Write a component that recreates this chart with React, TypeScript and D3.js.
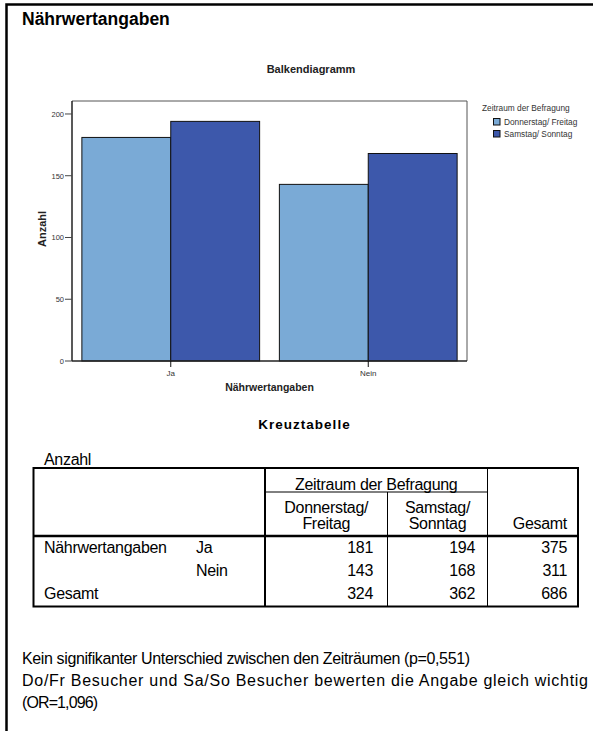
import React, { useEffect } from "react";
import * as d3 from "d3";

const categories = ["Ja", "Nein"];
const seriesNames = ["Donnerstag/ Freitag", "Samstag/ Sonntag"];
const seriesDoFr = [181, 143];
const seriesSaSo = [194, 168];
const yTicks = [0, 50, 100, 150, 200];
const colors = ["#7aaad6", "#3d58ab"];

const tableRows = ["Ja", "Nein"];
const totalsRow = [324, 362, 686];
const rowTotals = [375, 311];

const notes = [
  "Kein signifikanter Unterschied zwischen den Zeiträumen (p=0,551)",
  "Do/Fr Besucher und Sa/So Besucher bewerten die Angabe gleich wichtig",
  "(OR=1,096)",
];
const noteWidths = [448, 566, 76];

const FONT = "'Liberation Sans', Arial, sans-serif";

export default function App() {
  useEffect(() => {
    document.body.style.margin = "0";
    document.body.style.overflow = "hidden";
  }, []);
  const W = 593;
  const H = 731;
  const plot = { left: 72, right: 467, top: 101, bottom: 361 };
  const x0 = d3
    .scaleBand<string>()
    .domain(categories)
    .range([plot.left, plot.right])
    .paddingInner(0.1)
    .paddingOuter(0.05);
  const x1 = d3
    .scaleBand<number>()
    .domain([0, 1])
    .range([0, x0.bandwidth()]);
  const y = d3.scaleLinear().domain([0, 210.5]).range([plot.bottom, plot.top]);
  const series = [seriesDoFr, seriesSaSo];

  // table geometry
  const tL = 33.5, tR = 578, tT = 468, tB = 606.5;
  const c1 = 265, c2 = 387.5, c3 = 487.5;
  const hSep = 536, zLine = 492;
  const rowBase = [553, 576, 599];
  const numRight = [373, 475, 567];
  const tf = 16;

  return (
    <svg
      width={W}
      height={H}
      style={{ position: "fixed", left: 0, top: 0, background: "#fff", display: "block" }}
      fontFamily={FONT}
    >
      {/* outer frame */}
      <path d={`M6.5,${H} V4.5 H${W}`} fill="none" stroke="#000" strokeWidth={2.5} />
      <text x={22} y={25} fontSize={17.5} fontWeight="bold">
        Nährwertangaben
      </text>

      {/* chart */}
      <text x={311} y={73} fontSize={11} fontWeight="bold" textAnchor="middle" fill="#222">
        Balkendiagramm
      </text>
      <line x1={plot.left} x2={plot.right} y1={plot.top} y2={plot.top} stroke="#555" strokeWidth={1} />
      <line x1={plot.right} x2={plot.right} y1={plot.top} y2={plot.bottom} stroke="#555" strokeWidth={1} />
      {categories.map((c, i) =>
        series.map((s, j) => (
          <rect
            key={c + j}
            x={(x0(c) as number) + (x1(j) as number)}
            y={y(s[i])}
            width={x1.bandwidth()}
            height={plot.bottom - y(s[i])}
            fill={colors[j]}
            stroke="#111"
            strokeWidth={1}
          />
        ))
      )}
      <line x1={plot.left} x2={plot.left} y1={plot.top} y2={plot.bottom} stroke="#222" strokeWidth={1.5} />
      <line x1={plot.left} x2={plot.right} y1={plot.bottom} y2={plot.bottom} stroke="#222" strokeWidth={1.5} />
      {yTicks.map((t) => (
        <g key={t}>
          <line x1={plot.left - 7} x2={plot.left} y1={y(t)} y2={y(t)} stroke="#444" strokeWidth={1} />
          <text x={plot.left - 8} y={y(t) + 2.8} fontSize={7.5} textAnchor="end" fill="#333">
            {t}
          </text>
        </g>
      ))}
      {categories.map((c) => {
        const cx = (x0(c) as number) + x0.bandwidth() / 2;
        return (
          <g key={c}>
            <line x1={cx} x2={cx} y1={plot.bottom} y2={plot.bottom + 6} stroke="#111" strokeWidth={1} />
            <text x={cx} y={plot.bottom + 15} fontSize={8} textAnchor="middle" fill="#333">
              {c}
            </text>
          </g>
        );
      })}
      <text x={269.5} y={391} fontSize={10.5} fontWeight="bold" textAnchor="middle" fill="#222">
        Nährwertangaben
      </text>
      <text
        transform={`translate(45.5,229) rotate(-90)`}
        fontSize={11}
        fontWeight="bold"
        textAnchor="middle"
        fill="#222"
      >
        Anzahl
      </text>

      {/* legend */}
      <text x={482} y={111} fontSize={8.3} fill="#333">
        Zeitraum der Befragung
      </text>
      {seriesNames.map((n, j) => (
        <g key={n}>
          <rect x={493.5} y={118.5 + j * 12} width={6.5} height={6.5} fill={colors[j]} stroke="#111" strokeWidth={1} />
          <text x={504} y={125 + j * 12} fontSize={8.3} fill="#333">
            {n}
          </text>
        </g>
      ))}

      {/* table */}
      <text x={304.5} y={429} fontSize={13.5} fontWeight="bold" textAnchor="middle" letterSpacing={1}>
        Kreuztabelle
      </text>
      <g fontSize={tf} letterSpacing={-0.3} fill="#000">
        <text x={44} y={465}>Anzahl</text>
        <rect x={tL} y={tT} width={tR - tL} height={tB - tT} fill="none" stroke="#000" strokeWidth={2} />
        <line x1={tL} x2={tR} y1={hSep} y2={hSep} stroke="#000" strokeWidth={2.5} />
        <line x1={c1} x2={c1} y1={tT} y2={tB} stroke="#000" strokeWidth={2} />
        <line x1={c1} x2={c3} y1={zLine} y2={zLine} stroke="#000" strokeWidth={1} />
        <line x1={c2} x2={c2} y1={zLine} y2={tB} stroke="#000" strokeWidth={1} />
        <line x1={c3} x2={c3} y1={tT} y2={tB} stroke="#000" strokeWidth={1} />
        <text x={(c1 + c3) / 2} y={490} textAnchor="middle">Zeitraum der Befragung</text>
        <text x={(c1 + c2) / 2} y={513} textAnchor="middle">Donnerstag/</text>
        <text x={(c1 + c2) / 2} y={529} textAnchor="middle">Freitag</text>
        <text x={(c2 + c3) / 2} y={513} textAnchor="middle">Samstag/</text>
        <text x={(c2 + c3) / 2} y={529} textAnchor="middle">Sonntag</text>
        <text x={numRight[2]} y={529} textAnchor="end">Gesamt</text>
        <text x={44} y={rowBase[0]}>Nährwertangaben</text>
        {tableRows.map((r, i) => (
          <g key={r}>
            <text x={196} y={rowBase[i]}>{r}</text>
            <text x={numRight[0]} y={rowBase[i]} textAnchor="end">{seriesDoFr[i]}</text>
            <text x={numRight[1]} y={rowBase[i]} textAnchor="end">{seriesSaSo[i]}</text>
            <text x={numRight[2]} y={rowBase[i]} textAnchor="end">{rowTotals[i]}</text>
          </g>
        ))}
        <text x={44} y={rowBase[2]}>Gesamt</text>
        {totalsRow.map((v, k) => (
          <text key={k} x={numRight[k]} y={rowBase[2]} textAnchor="end">{v}</text>
        ))}
      </g>

      {/* notes */}
      {notes.map((n, i) => (
        <text
          key={i}
          x={22}
          y={664 + i * 22}
          fontSize={16}
          textLength={noteWidths[i]}
          lengthAdjust="spacing"
        >
          {n}
        </text>
      ))}
    </svg>
  );
}
